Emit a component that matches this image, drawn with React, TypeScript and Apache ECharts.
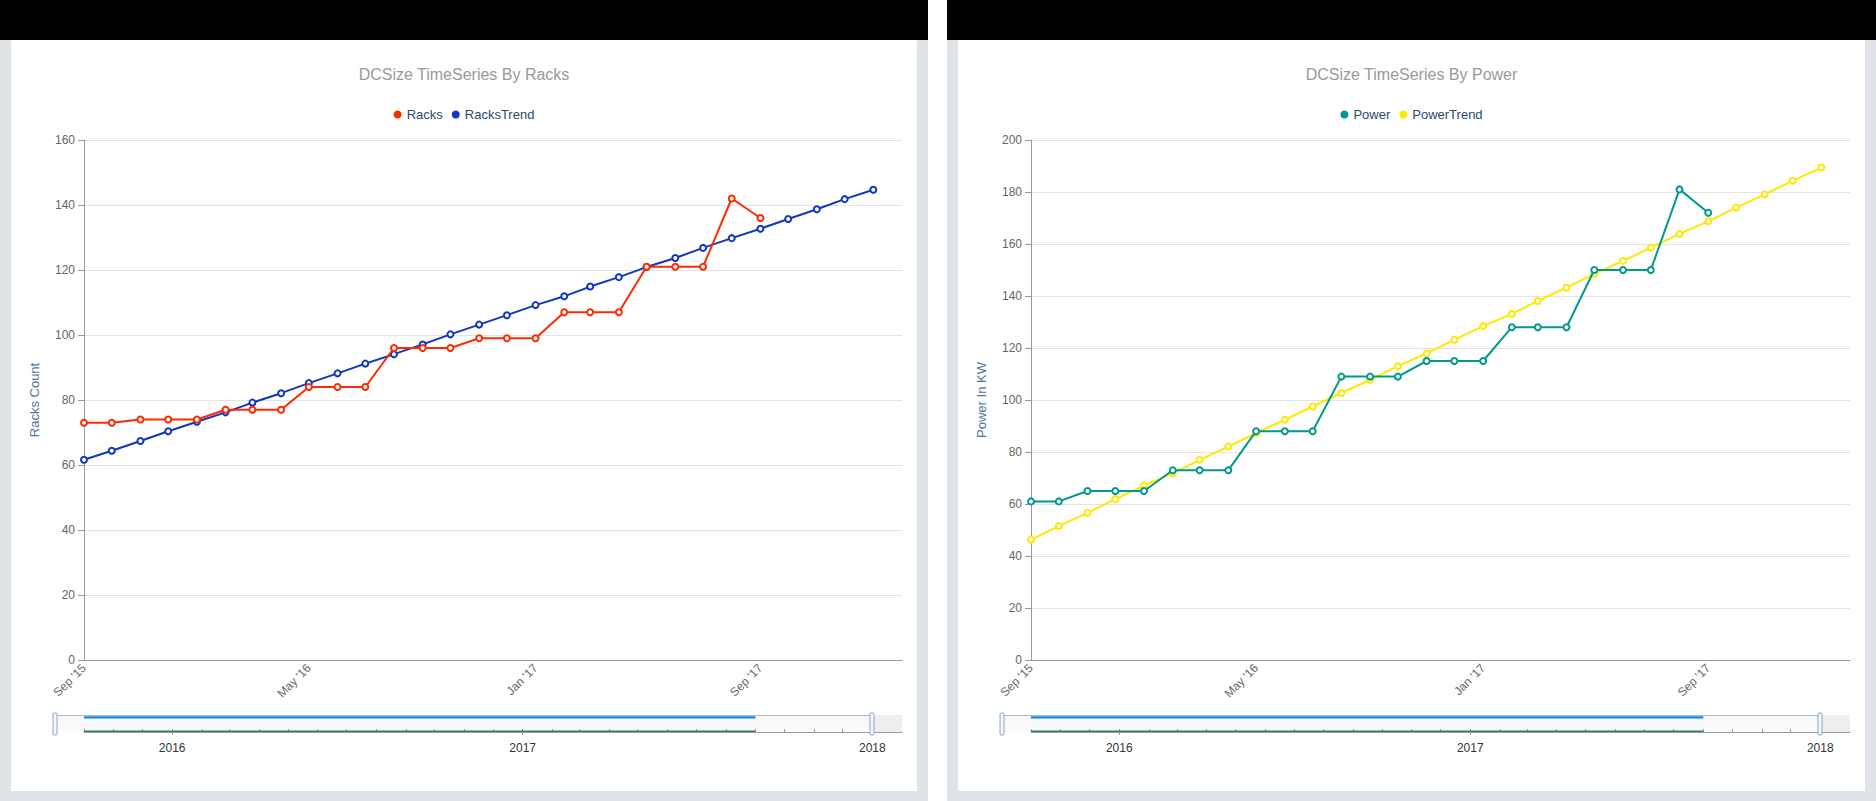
import React, { useEffect, useRef } from "react";
import * as echarts from "echarts";

// ---- data ----
const months = [
  "2015-09-01", "2015-10-01", "2015-11-01", "2015-12-01",
  "2016-01-01", "2016-02-01", "2016-03-01", "2016-04-01", "2016-05-01", "2016-06-01",
  "2016-07-01", "2016-08-01", "2016-09-01", "2016-10-01", "2016-11-01", "2016-12-01",
  "2017-01-01", "2017-02-01", "2017-03-01", "2017-04-01", "2017-05-01", "2017-06-01",
  "2017-07-01", "2017-08-01", "2017-09-01", "2017-10-01", "2017-11-01", "2017-12-01",
  "2018-01-01",
];
const racks = [73, 73, 74, 74, 74, 77, 77, 77, 84, 84, 84, 96, 96, 96, 99, 99, 99, 107, 107, 107, 121, 121, 121, 142, 136];
const racksTrend = [61.6, 64.4, 67.4, 70.4, 73.3, 76.2, 79.2, 82.1, 85.2, 88.2, 91.2, 94.1, 97.1, 100.2, 103.2, 106.1, 109.2, 111.9, 114.9, 117.8, 120.9, 123.7, 126.8, 129.8, 132.7, 135.7, 138.7, 141.8, 144.7];
const power = [61, 61, 65, 65, 65, 73, 73, 73, 88, 88, 88, 109, 109, 109, 115, 115, 115, 128, 128, 128, 150, 150, 150, 181, 172];
const powerTrend = [46.3, 51.5, 56.6, 61.9, 67.1, 71.8, 77.0, 82.1, 87.3, 92.4, 97.5, 102.7, 107.8, 113.0, 117.9, 123.2, 128.4, 133.1, 138.1, 143.2, 148.5, 153.5, 158.6, 163.9, 168.7, 174.0, 179.1, 184.3, 189.4];

const axisRange = ["2015-09-01", "2018-02-01"];
const xTickLabels = ["2015-09-01", "2016-05-01", "2017-01-01", "2017-09-01"];
const navAxisRange = ["2015-10-01", "2018-02-01"];
const navYears = ["2016-01-01", "2017-01-01", "2018-01-01"];
const navSelected = ["2015-09-01", "2018-01-01"];
const navSeriesSpan = ["2015-10-01", "2017-09-01"];
const navTopLevel = 0.86;
const navBottomLevel = 0.05;

const monthNames = ["Jan", "Feb", "Mar", "Apr", "May", "Jun", "Jul", "Aug", "Sep", "Oct", "Nov", "Dec"];
const FONT = "'Liberation Sans', Arial, sans-serif";

const ts = (s: string) => {
  const [y, m, d] = s.split("-").map(Number);
  return new Date(y, m - 1, d).getTime();
};

type Cfg = {
  title: string;
  yName: string;
  yMax: number;
  names: [string, string];
  colors: [string, string];
  actual: number[];
  trend: number[];
};

function buildOption(c: Cfg): any {
  const actualData = c.actual.map((v, i) => [ts(months[i]), v]);
  const trendData = c.trend.map((v, i) => [ts(months[i]), v]);
  const navTicks = months.slice(1).map(ts);
  return {
    animation: false,
    textStyle: { fontFamily: FONT },
    title: {
      text: c.title,
      left: "center",
      top: 21,
      textStyle: { fontFamily: FONT, fontSize: 16, fontWeight: "normal", color: "#999999" },
    },
    legend: {
      top: 63,
      left: "center",
      icon: "circle",
      itemWidth: 8,
      itemHeight: 8,
      itemGap: 9,
      textStyle: { fontFamily: FONT, fontSize: 13, color: "#274b6d" },
      data: [
        { name: c.names[0], itemStyle: { color: c.colors[0], borderWidth: 0 } },
        { name: c.names[1], itemStyle: { color: c.colors[1], borderWidth: 0 } },
      ],
    },
    grid: [
      { left: 73, right: 15, top: 100, bottom: 131 },
      { left: 73, right: 15, top: 675, bottom: 59 },
    ],
    xAxis: [
      {
        type: "value",
        gridIndex: 0,
        position: "bottom",
        min: ts(axisRange[0]),
        max: ts(axisRange[1]),
        axisLine: { show: true, onZero: false, lineStyle: { color: "#9a9a9a", width: 1 } },
        axisTick: { show: false },
        splitLine: { show: false },
        axisLabel: {
          customValues: xTickLabels.map(ts),
          rotate: 45,
          margin: 6,
          fontSize: 12,
          color: "#666666",
          fontFamily: FONT,
          formatter: (v: number) => {
            const d = new Date(v);
            return `${monthNames[d.getMonth()]} '${String(d.getFullYear()).slice(2)}`;
          },
        },
      },
      {
        type: "value",
        gridIndex: 1,
        position: "bottom",
        min: ts(navAxisRange[0]),
        max: ts(navAxisRange[1]),
        axisLine: { show: true, onZero: false, lineStyle: { color: "#9a9a9a", width: 1 } },
        axisTick: { show: true, inside: true, length: 3, customValues: navTicks, lineStyle: { color: "#9a9a9a" } },
        splitLine: { show: false },
        axisLabel: { show: false },
      },
      {
        type: "value",
        gridIndex: 1,
        position: "bottom",
        min: ts(navAxisRange[0]),
        max: ts(navAxisRange[1]),
        axisLine: { show: false, onZero: false },
        axisTick: { show: true, inside: false, length: 3, customValues: navYears.map(ts), lineStyle: { color: "#9a9a9a" } },
        splitLine: { show: false },
        axisLabel: {
          customValues: navYears.map(ts),
          margin: 10,
          fontSize: 12,
          color: "#333333",
          fontFamily: FONT,
          formatter: (v: number) => String(new Date(v).getFullYear()),
        },
      },
    ],
    yAxis: [
      {
        type: "value",
        gridIndex: 0,
        min: 0,
        max: c.yMax,
        interval: 20,
        name: c.yName,
        nameLocation: "middle",
        nameGap: 43,
        nameTextStyle: { color: "#4d759e", fontSize: 13, fontFamily: FONT },
        axisLine: { show: true, lineStyle: { color: "#9a9a9a", width: 1 } },
        axisTick: { show: true, length: 6, lineStyle: { color: "#9a9a9a" } },
        axisLabel: { margin: 9, fontSize: 12, color: "#666666", fontFamily: FONT },
        splitLine: { show: true, lineStyle: { color: "#e3e3e3", width: 1 } },
      },
      {
        type: "value",
        gridIndex: 1,
        min: 0,
        max: 1,
        show: false,
        splitLine: { show: false },
      },
    ],
    series: [
      {
        name: c.names[0],
        type: "line",
        xAxisIndex: 0,
        yAxisIndex: 0,
        data: actualData,
        symbol: "emptyCircle",
        symbolSize: 6,
        lineStyle: { width: 2, color: c.colors[0] },
        itemStyle: { color: c.colors[0], borderWidth: 2 },
        z: 3,
      },
      {
        name: c.names[1],
        type: "line",
        xAxisIndex: 0,
        yAxisIndex: 0,
        data: trendData,
        symbol: "emptyCircle",
        symbolSize: 6,
        lineStyle: { width: 2, color: c.colors[1] },
        itemStyle: { color: c.colors[1], borderWidth: 2 },
        z: 2,
      },
      {
        name: "navTop",
        type: "line",
        xAxisIndex: 1,
        yAxisIndex: 1,
        data: navSeriesSpan.map((d) => [ts(d), navTopLevel]),
        symbol: "none",
        silent: true,
        lineStyle: { width: 2.2, color: "#1189e6" },
        z: 5,
      },
      {
        name: "navBottom",
        type: "line",
        xAxisIndex: 1,
        yAxisIndex: 1,
        data: navSeriesSpan.map((d) => [ts(d), navBottomLevel]),
        symbol: "none",
        silent: true,
        lineStyle: { width: 1.5, color: "#2a7f6e" },
        z: 5,
      },
    ],
  };
}

function addNavigator(chart: any) {
  const xL = chart.convertToPixel({ xAxisIndex: 1 }, ts(navSelected[0]));
  const xR = chart.convertToPixel({ xAxisIndex: 1 }, ts(navSelected[1]));
  const xEnd = chart.convertToPixel({ xAxisIndex: 1 }, ts(navAxisRange[1]));
  const yTop = chart.convertToPixel({ yAxisIndex: 1 }, 1);
  const yBot = chart.convertToPixel({ yAxisIndex: 1 }, 0);
  const handle = (x: number) => ({
    type: "rect",
    z: 20,
    shape: { x: Math.round(x) - 2, y: yTop - 2, width: 4, height: yBot - yTop + 5, r: 1 },
    style: { fill: "#f4f6fa", stroke: "#8ea4c9", lineWidth: 1 },
  });
  chart.setOption({
    graphic: [
      {
        type: "rect",
        z: -5,
        silent: true,
        shape: { x: xL, y: yTop, width: xEnd - xL, height: yBot - yTop },
        style: { fill: "#eeeef0" },
      },
      {
        type: "rect",
        z: -4,
        silent: true,
        shape: { x: xL, y: yTop, width: xR - xL, height: yBot - yTop },
        style: {
          fill: new echarts.graphic.LinearGradient(0, 0, 0, 1, [
            { offset: 0, color: "#f6f6f6" },
            { offset: 1, color: "#fbfbfb" },
          ]),
        },
      },
      {
        type: "line",
        z: 6,
        silent: true,
        shape: { x1: xL, y1: yTop + 0.5, x2: xR, y2: yTop + 0.5 },
        style: { stroke: "#a9b9d6", lineWidth: 1 },
      },
      handle(xL),
      handle(xR),
    ],
  });
}

function Chart({ cfg, width, height }: { cfg: Cfg; width: number; height: number }) {
  const ref = useRef<HTMLDivElement>(null);
  useEffect(() => {
    if (!ref.current) return;
    const chart = echarts.init(ref.current, undefined, { renderer: "svg" });
    chart.setOption(buildOption(cfg));
    addNavigator(chart);
    return () => chart.dispose();
  }, [cfg]);
  return <div ref={ref} style={{ width, height }} />;
}

const racksCfg: Cfg = {
  title: "DCSize TimeSeries By Racks",
  yName: "Racks Count",
  yMax: 160,
  names: ["Racks", "RacksTrend"],
  colors: ["#ff2a00", "#1036c2"],
  actual: racks,
  trend: racksTrend,
};
const powerCfg: Cfg = {
  title: "DCSize TimeSeries By Power",
  yName: "Power In KW",
  yMax: 200,
  names: ["Power", "PowerTrend"],
  colors: ["#00998b", "#ffe800"],
  actual: power,
  trend: powerTrend,
};

const GRAY = "#dfe3e8";

export default function App() {
  useEffect(() => {
    document.body.style.margin = "0";
  }, []);
  const abs = (l: number, t: number, w: number, h: number, bg: string): React.CSSProperties => ({
    position: "absolute",
    left: l,
    top: t,
    width: w,
    height: h,
    background: bg,
  });
  return (
    <div style={{ position: "absolute", left: 0, top: 0, width: 1876, height: 801, background: "#ffffff", overflow: "hidden" }}>
      <div style={abs(0, 0, 928, 40, "#000000")} />
      <div style={abs(0, 40, 928, 761, GRAY)} />
      <div style={abs(11, 40, 906, 751, "#ffffff")}>
        <Chart cfg={racksCfg} width={906} height={751} />
      </div>
      <div style={abs(947, 0, 929, 40, "#000000")} />
      <div style={abs(947, 40, 929, 761, GRAY)} />
      <div style={abs(958, 40, 907, 751, "#ffffff")}>
        <Chart cfg={powerCfg} width={907} height={751} />
      </div>
    </div>
  );
}
